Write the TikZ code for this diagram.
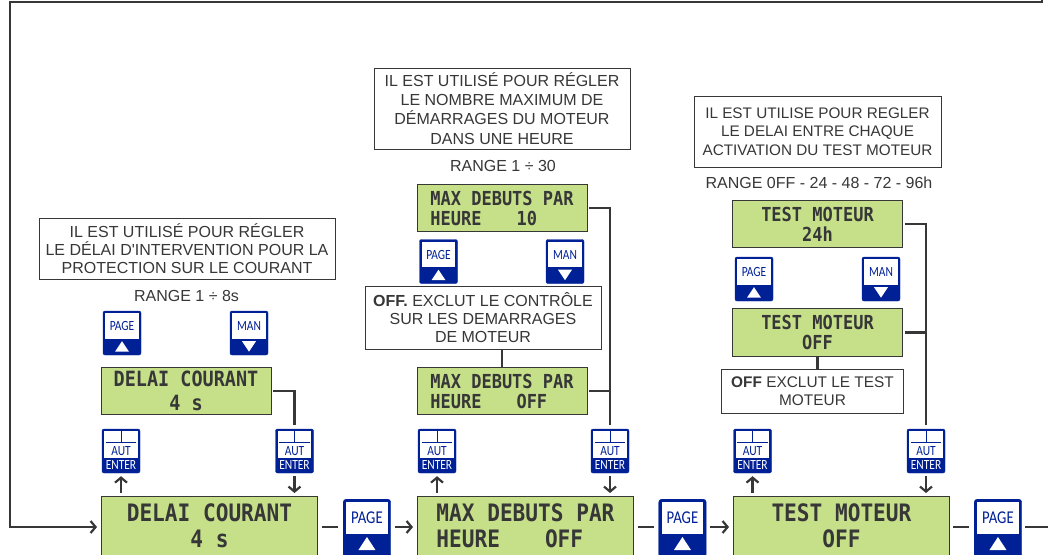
\documentclass[tikz,border=0pt]{standalone}
\usepackage{fontspec}
\setmainfont{Liberation Sans}
\newfontfamily\lcdfont{DejaVu Sans Mono}[FakeStretch=0.88]
\newfontfamily\btnfont{Carlito}[FakeStretch=0.82]
\usepackage{tikz}
\usetikzlibrary{arrows.meta,calc}
\definecolor{lcdgreen}{RGB}{198,224,138}
\definecolor{btnblue}{RGB}{0,32,150}
\definecolor{inkgrey}{RGB}{55,55,55}
\tikzset{
  lcdsmall/.style={rectangle,draw=inkgrey,line width=0.9pt,fill=lcdgreen,minimum width=170pt,minimum height=47.5pt,inner sep=0pt,font=\lcdfont\bfseries\fontsize{19.3}{20}\selectfont,text=inkgrey,align=center},
  lcdbig/.style={rectangle,draw=inkgrey,line width=0.9pt,fill=lcdgreen,minimum width=216pt,minimum height=62pt,inner sep=0pt,anchor=north west,text depth=4pt,font=\lcdfont\bfseries\fontsize{24}{26}\selectfont,text=inkgrey,align=center},
  notebox/.style={rectangle,draw=inkgrey,line width=0.7pt,fill=white,inner sep=0pt,align=center,font=\fontsize{16}{18.3}\selectfont,text=inkgrey},
  rangetxt/.style={font=\fontsize{16}{18}\selectfont,text=inkgrey,inner sep=0pt},
  btnbody/.style={rectangle,rounded corners=2pt,fill=btnblue,draw=btnblue,line width=0.4pt,inner sep=0pt},
  flow/.style={draw=inkgrey,line width=2.2pt},
  flowarrow/.style={flow,-{Straight Barb[length=5pt,width=12pt,line width=2.2pt]}},
}
% small button with a triangle: name, x, y, label, u or d
\newcommand{\arrowbtn}[5]{
  \node[btnbody,minimum width=38pt,minimum height=44pt] (#1) at (#2,#3) {};
  \fill[white] ($(#1.north west)+(2.5,2.5)$) rectangle ($(#1.north east)+(-2.5,28)$);
  \node[font=\btnfont\fontsize{14}{15}\selectfont,text=btnblue,inner sep=0pt] (#1label) at ($(#1.north)+(0,15.5)$) {#4};
  \ifx#5u
    \fill[white] ($(#1.south)+(-7,-3.5)$) -- ($(#1.south)+(7,-3.5)$) -- ($(#1.south)+(0,-14)$) -- cycle;
  \else
    \fill[white] ($(#1.south)+(-7,-14)$) -- ($(#1.south)+(7,-14)$) -- ($(#1.south)+(0,-3.5)$) -- cycle;
  \fi
}
% enter button: name, x, y
\newcommand{\enterbtn}[3]{
  \node[btnbody,minimum width=38pt,minimum height=44pt] (#1) at (#2,#3) {};
  \fill[white] ($(#1.north west)+(2.5,2.5)$) rectangle ($(#1.north east)+(-2.5,29)$);
  \draw[btnblue,line width=1pt] ($(#1.north)+(0,2.5)$) -- ($(#1.north)+(0,14)$);
  \draw[btnblue,line width=1pt] ($(#1.north west)+(4,14)$) -- ($(#1.north east)+(-4,14)$);
  \node[font=\btnfont\fontsize{14}{15}\selectfont,text=btnblue,inner sep=0pt] (#1aut) at ($(#1.north)+(0,22)$) {AUT};
  \node[font=\btnfont\fontsize{14}{15}\selectfont,text=white,inner sep=0pt] (#1txt) at ($(#1.south)+(0,-8)$) {ENTER};
}
% big page button on the bottom row: name, x
\newcommand{\pagebtn}[2]{
  \node[btnbody,rounded corners=3pt,minimum width=47.5pt,minimum height=58pt,anchor=north west] (#1) at (#2,499) {};
  \fill[white] ($(#1.north west)+(3,3)$) rectangle ($(#1.north east)+(-3,35)$);
  \node[font=\btnfont\fontsize{18}{20}\selectfont,text=btnblue,inner sep=0pt] (#1label) at ($(#1.north)+(0,19)$) {PAGE};
  \fill[white] ($(#1.north)+(-8.5,51)$) -- ($(#1.north)+(8.5,51)$) -- ($(#1.north)+(0,38)$) -- cycle;
}
\begin{document}
\begin{tikzpicture}[x=1pt,y=-1pt]
  \useasboundingbox (0,0) rectangle (1051,554);

  % first column
  \node[notebox,minimum width=296pt,minimum height=61pt] (note1) at (187,248.5) {IL EST UTILISÉ POUR RÉGLER\\LE DÉLAI D\textquotesingle INTERVENTION POUR LA\\PROTECTION SUR LE COURANT};
  \node[rangetxt] (range1) at (186.5,295.5) {RANGE 1 ÷ 8s};
  \arrowbtn{page1}{122}{333}{PAGE}{u}
  \arrowbtn{man1}{249}{333}{MAN}{d}
  \node[lcdsmall,font=\lcdfont\bfseries\fontsize{21}{21}\selectfont] (lcd1) at (186,391) {DELAI COURANT\\[3pt]4 s};
  \enterbtn{aut1a}{121}{451}
  \enterbtn{aut1b}{294.5}{451}
  \node[lcdbig] (main1) at (101,496) {DELAI COURANT\\4 s};
  \pagebtn{next1}{343}

  % second column
  \node[notebox,minimum width=256pt,minimum height=81pt,font=\fontsize{16}{19}\selectfont] (note2) at (502,108.5) {IL EST UTILISÉ POUR RÉGLER\\LE NOMBRE MAXIMUM DE\\DÉMARRAGES DU MOTEUR\\[0.5pt]DANS UNE HEURE};
  \node[rangetxt] (range2) at (503,166) {RANGE 1 ÷ 30};
  \node[lcdsmall,align=left] (lcd2a) at (502,208) {MAX DEBUTS PAR\\HEURE\hspace{35pt}10};
  \arrowbtn{page2}{438.5}{261.5}{PAGE}{u}
  \arrowbtn{man2}{565}{261.5}{MAN}{d}
  \node[notebox,minimum width=236pt,minimum height=63pt] (note2b) at (483,317.5) {\textbf{OFF.} EXCLUT LE CONTRÔLE\\SUR LES DEMARRAGES\\DE MOTEUR};
  \node[lcdsmall,align=left] (lcd2b) at (502,391) {MAX DEBUTS PAR\\HEURE\hspace{35pt}OFF};
  \enterbtn{aut2a}{437}{451}
  \enterbtn{aut2b}{610}{451}
  \node[lcdbig,align=left] (main2) at (417,496) {MAX DEBUTS PAR\\HEURE\hspace{45pt}OFF};
  \pagebtn{next2}{658.5}

  % third column
  \node[notebox,minimum width=247pt,minimum height=71pt,font=\fontsize{15.3}{18.3}\selectfont] (note3) at (817.5,131.5) {IL EST UTILISE POUR REGLER\\LE DELAI ENTRE CHAQUE\\ACTIVATION DU TEST MOTEUR};
  \node[rangetxt] (range3) at (819,183) {RANGE 0FF - 24 - 48 - 72 - 96h};
  \node[lcdsmall] (lcd3a) at (817.5,224) {TEST MOTEUR\\24h};
  \arrowbtn{page3}{754}{279}{PAGE}{u}
  \arrowbtn{man3}{881}{279}{MAN}{d}
  \node[lcdsmall] (lcd3b) at (817.5,332.5) {TEST MOTEUR\\OFF};
  \node[notebox,minimum width=182pt,minimum height=44pt,font=\fontsize{15.4}{18.3}\selectfont] (note3b) at (812.5,391) {\textbf{OFF} EXCLUT LE TEST\\MOTEUR};
  \enterbtn{aut3a}{752.5}{451}
  \enterbtn{aut3b}{926}{451}
  \node[lcdbig] (main3) at (733,496) {TEST MOTEUR\\OFF};
  \pagebtn{next3}{974}

  % connectors
  \coordinate (loopend) at (1042,0);
  \coordinate (rowleft) at (10,527);
  \coordinate (tail) at (1048,527);
  \draw[flowarrow,shorten >=4pt] (loopend) |- (10,2) -- (rowleft) -- (rowleft -| main1.west);
  \draw[flow,shorten <=4pt,shorten >=5pt] (main1.east |- rowleft) -- (next1.west |- rowleft);
  \draw[flowarrow,shorten <=4pt,shorten >=4pt] (next1.east |- rowleft) -- (main2.west |- rowleft);
  \draw[flow,shorten <=4pt,shorten >=5pt] (main2.east |- rowleft) -- (next2.west |- rowleft);
  \draw[flowarrow,shorten <=4pt,shorten >=4pt] (next2.east |- rowleft) -- (main3.west |- rowleft);
  \draw[flow,shorten <=3pt,shorten >=5pt] (main3.east |- rowleft) -- (next3.west |- rowleft);
  \draw[flow,shorten <=3pt] (next3.east |- rowleft) -- (tail);

  \draw[flow,shorten <=2pt,shorten >=4pt] (lcd1.east) -| (aut1b.north);
  \draw[flow,shorten <=2pt,shorten >=4pt] (lcd2a.east) -| (aut2b.north);
  \draw[flow,shorten <=2pt] (lcd2b.east) -- (lcd2b.east -| aut2b.north);
  \draw[flow,shorten <=2pt,shorten >=4pt] (lcd3a.east) -| (aut3b.north);
  \draw[flow,shorten <=2pt] (lcd3b.east) -- (lcd3b.east -| aut3b.north);
  \draw[flow] (note2b.south -| lcd2b.north) -- (lcd2b.north);
  \draw[flow] (lcd3b.south) -- (lcd3b.south |- note3b.north);

  \foreach \col in {1,2,3} {
    \draw[flowarrow,shorten <=3pt,shorten >=3pt] (main\col.north -| aut\col a.south) -- (aut\col a.south);
    \draw[flowarrow,shorten <=3pt,shorten >=3pt] (aut\col b.south) -- (aut\col b.south |- main\col.north);
  }
\end{tikzpicture}
\end{document}
